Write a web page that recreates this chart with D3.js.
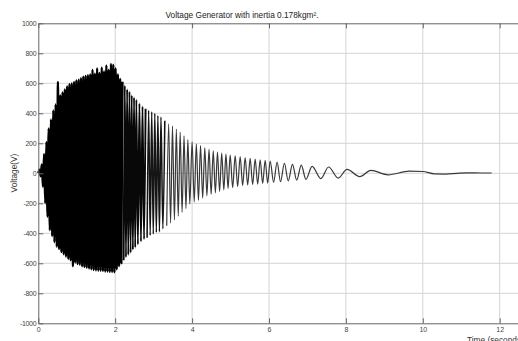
<!DOCTYPE html>
<html>
<head>
<meta charset="utf-8">
<script src="https://cdn.jsdelivr.net/npm/d3@7"></script>
<style>
  html, body { margin: 0; padding: 0; background: #fff; }
  svg { display: block; font-family: "Liberation Sans", Arial, sans-serif; }
</style>
</head>
<body>
<svg id="chart" width="518" height="341"></svg>
<script>
// peaks of the voltage trace (seconds, volts)
const peakTime = [
  0.00, 0.03, 0.06, 0.09, 0.12, 0.15, 0.18, 0.21, 0.24, 0.27, 0.30, 0.33, 0.36, 0.39, 0.42, 0.45,
  0.48, 0.51, 0.54, 0.57, 0.60, 0.63, 0.66, 0.69, 0.72, 0.75, 0.78, 0.81, 0.84, 0.87, 0.90, 0.93,
  0.96, 0.99, 1.02, 1.05, 1.08, 1.11, 1.14, 1.17, 1.20, 1.23, 1.26, 1.29, 1.32, 1.35, 1.38, 1.41,
  1.44, 1.47, 1.50, 1.53, 1.56, 1.59, 1.62, 1.65, 1.68, 1.71, 1.74, 1.77, 1.80, 1.83, 1.86, 1.89,
  1.92, 1.95, 1.98, 2.01, 2.04, 2.07, 2.10, 2.13, 2.16, 2.19, 2.22, 2.25, 2.28, 2.31, 2.34, 2.37,
  2.40, 2.43, 2.46, 2.49, 2.52, 2.55, 2.59, 2.63, 2.67, 2.71, 2.75, 2.79, 2.83, 2.87, 2.91, 2.95,
  2.99, 3.03, 3.07, 3.11, 3.15, 3.19, 3.24, 3.29, 3.34, 3.39, 3.44, 3.49, 3.54, 3.59, 3.64, 3.69,
  3.74, 3.79, 3.84, 3.89, 3.94, 4.00, 4.055, 4.11, 4.165, 4.22, 4.275, 4.33, 4.385, 4.44, 4.495, 4.55,
  4.605, 4.66, 4.715, 4.77, 4.825, 4.88, 4.935, 4.99, 5.055, 5.12, 5.185, 5.25, 5.315, 5.38, 5.445, 5.51,
  5.575, 5.64, 5.705, 5.77, 5.835, 5.90, 5.965, 6.03, 6.12, 6.21, 6.30, 6.40, 6.50, 6.61, 6.72, 6.84,
  6.96, 7.12, 7.35, 7.55, 7.80, 8.03, 8.36, 8.65, 9.10, 9.65, 10.0, 10.3, 10.6, 10.9, 11.2, 11.5,
  11.79
];
const peakVolt = [
  0, 25, -20, 60, -90, 130, -200, 210, -290, 300, -380, 360, -420, 420, -460, 460,
  -490, 610, -505, 520, -525, 540, -540, 560, -555, 580, -570, 595, -580, 600, -620, 610,
  -595, 620, -605, 625, -610, 635, -620, 645, -625, 650, -630, 655, -635, 660, -640, 690,
  -645, 665, -648, 700, -650, 670, -650, 705, -652, 680, -655, 720, -655, 690, -658, 730,
  -658, 725, -660, 700, -640, 660, -620, 630, -600, 610, -580, 585, -560, 560, -545, 545,
  -530, 520, -510, 505, -495, 490, -475, 465, -455, 445, -440, 430, -430, 420, -415, 410,
  -405, 400, -395, 385, -390, 375, -370, 350, -350, 330, -330, 315, -310, 295, -285, 275,
  -260, 250, -235, 225, -205, 210, -190, 195, -180, 185, -165, 170, -150, 160, -140, 150,
  -130, 142, -120, 135, -110, 128, -100, 122, -95, 117, -88, 111, -82, 105, -78, 100,
  -75, 95, -72, 90, -68, 86, -65, 82, -60, 74, -56, 67, -50, 60, -45, 54,
  -40, 46, -35, 42, -32, 26, -22, 19, -10, 14, 12, -4, -5, 0, 3, 2,
  2
];

const xTicks = [0, 2, 4, 6, 8, 10, 12];
const yTicks = [-1000, -800, -600, -400, -200, 0, 200, 400, 600, 800, 1000];

const svg = d3.select('#chart');
const plotLeft = 38.3, plotTop = 23.3, plotBottom = 323.3;

const x = d3.scaleLinear().domain([0, 12.6]).range([plotLeft, plotLeft + 38.45 * 12.6]);
const y = d3.scaleLinear().domain([-1000, 1000]).range([plotBottom, plotTop]);

// grid
svg.append('g')
  .selectAll('line')
  .data(xTicks.slice(1))
  .join('line')
  .attr('x1', d => x(d)).attr('x2', d => x(d))
  .attr('y1', plotTop).attr('y2', plotBottom)
  .attr('stroke', '#d4d4d4').attr('stroke-width', 1);

svg.append('g')
  .selectAll('line')
  .data(yTicks.slice(1, -1))
  .join('line')
  .attr('x1', plotLeft).attr('x2', 518)
  .attr('y1', d => y(d)).attr('y2', d => y(d))
  .attr('stroke', '#d4d4d4').attr('stroke-width', 1);

// trace: same series, drawn in stretches so the dense start reads as solid
const pts = peakTime.map((t, i) => [t, peakVolt[i]]);
const line = d3.line()
  .x(d => x(d[0]))
  .y(d => y(d[1]))
  .curve(d3.curveMonotoneX);

const stretches = [
  { from: 0, to: 2.2, width: 2.3, color: '#000' },
  { from: 2.2, to: 2.8, width: 1.9, color: '#080808' },
  { from: 2.8, to: 3.3, width: 1.55, color: '#151515' },
  { from: 3.3, to: 99, width: 1.2, color: '#383838' },
];

svg.append('g')
  .selectAll('path')
  .data(stretches)
  .join('path')
  .attr('d', s => line(pts.filter(p => p[0] >= s.from && p[0] <= s.to)))
  .attr('fill', 'none')
  .attr('stroke', s => s.color)
  .attr('stroke-width', s => s.width)
  .attr('stroke-linejoin', 'round');

// axes, ticks inside like matlab
const styleAxis = g => {
  g.select('.domain').attr('stroke', '#666');
  g.selectAll('.tick line').attr('stroke', '#666');
  g.selectAll('.tick text').attr('fill', '#444').attr('font-size', '7px');
};

svg.append('g')
  .attr('transform', `translate(0,${plotBottom})`)
  .call(d3.axisBottom(x).tickValues(xTicks).tickSize(-5).tickPadding(4).tickSizeOuter(0))
  .call(styleAxis);

svg.append('g')
  .attr('transform', `translate(0,${plotTop})`)
  .call(d3.axisTop(x).tickValues(xTicks).tickSize(-5).tickFormat('').tickSizeOuter(0))
  .call(styleAxis);

svg.append('g')
  .attr('transform', `translate(${plotLeft},0)`)
  .call(d3.axisLeft(y).tickValues(yTicks).tickFormat(d => String(d))
    .tickSize(-5).tickPadding(2).tickSizeOuter(0))
  .call(styleAxis)
  .call(g => g.selectAll('.tick text').attr('letter-spacing', '-0.3px'));

// labels
svg.append('text')
  .attr('x', 242).attr('y', 17.5)
  .attr('text-anchor', 'middle')
  .attr('font-size', '8.3px').attr('fill', '#222')
  .text('Voltage Generator with inertia 0.178kgm².');

svg.append('text')
  .attr('transform', 'translate(17,173) rotate(-90)')
  .attr('text-anchor', 'middle')
  .attr('font-size', '8.3px').attr('fill', '#333')
  .text('Voltage(V)');

svg.append('text')
  .attr('x', 467).attr('y', 343)
  .attr('font-size', '8.3px').attr('fill', '#333')
  .text('Time (seconds)');
</script>
</body>
</html>
